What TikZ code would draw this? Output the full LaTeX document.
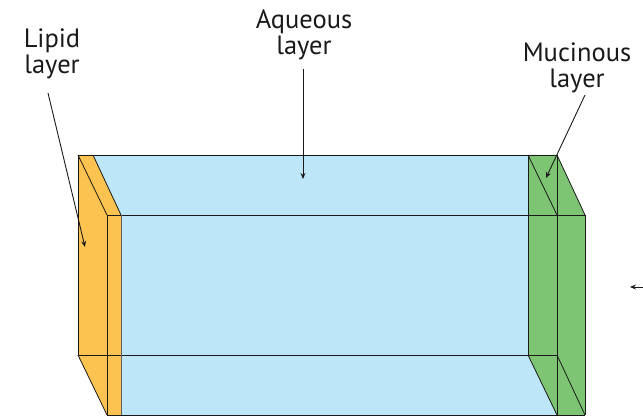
\documentclass[tikz,border=0pt]{standalone}
\usepackage{fontspec}
\setmainfont{PT Sans}
\usetikzlibrary{arrows.meta}
\definecolor{lipid}{HTML}{FCC350}
\definecolor{aqueous}{HTML}{BEE6F9}
\definecolor{mucin}{HTML}{7DC573}
\definecolor{edge}{HTML}{1A1A1A}
\begin{document}
\begin{tikzpicture}[x=1pt,y=-1pt,
  edgeline/.style={draw=edge,line width=0.8pt},
  label/.style={font=\fontsize{26.5}{26}\selectfont,align=center,inner sep=0pt,anchor=base,text=edge},
  pointer/.style={draw=edge,line width=0.9pt,-{Stealth[length=6pt,width=5pt]}}]
\useasboundingbox (0,0) rectangle (643,417);

% slab fills
\fill[aqueous] (93,155) -- (528,155) -- (557,215) -- (557,415) -- (121,415) -- (121,215) -- cycle;
\fill[lipid] (78,155) -- (93,155) -- (121,215) -- (121,415) -- (107,415) -- (78,355) -- cycle;
\fill[mucin] (528,155) -- (557,155) -- (585,215) -- (585,415) -- (557,415) -- (528,355) -- cycle;

% box edges
\draw[edgeline] (78,155) -- (557,155);
\draw[edgeline] (107,215) -- (585,215);
\draw[edgeline] (78,355) -- (557,355);
\draw[edgeline] (107,415) -- (585,415);
\draw[edgeline] (78,155) -- (78,355);
\draw[edgeline] (107,215) -- (107,415);
\draw[edgeline,draw=edge!70] (121,215) -- (121,415);
\draw[edgeline] (528,155) -- (528,355);
\draw[edgeline] (557,155) -- (557,415);
\draw[edgeline] (585,215) -- (585,415);
\draw[edgeline] (78,155) -- (107,215);
\draw[edgeline] (93,155) -- (121,215);
\draw[edgeline] (78,355) -- (107,415);
\draw[edgeline] (528,155) -- (557,215);
\draw[edgeline] (557,155) -- (585,215);
\draw[edgeline] (528,355) -- (557,415);
\draw[edgeline] (557,355) -- (585,415);

% labels (anchored at the baseline of the second line)
\node[label] (lipidlabel) at (52,74) {Lipid\\layer};
\node[label] (aqueouslabel) at (304,55) {Aqueous\\layer};
\node[label] (mucinlabel) at (577,88) {Mucinous\\layer};

% pointer ends
\coordinate (lipidfrom) at (48,93);
\coordinate (lipidto) at (85,247);
\coordinate (aqueousfrom) at (303,69);
\coordinate (aqueousto) at (303,179);
\coordinate (mucinfrom) at (585,95);
\coordinate (mucinto) at (546,178);
\coordinate (sidefrom) at (643,287);
\coordinate (sideto) at (630,287);

\draw[pointer] (lipidfrom) -- (lipidto);
\draw[pointer] (aqueousfrom) -- (aqueousto);
\draw[pointer] (mucinfrom) -- (mucinto);
\draw[pointer] (sidefrom) -- (sideto);
\end{tikzpicture}
\end{document}
